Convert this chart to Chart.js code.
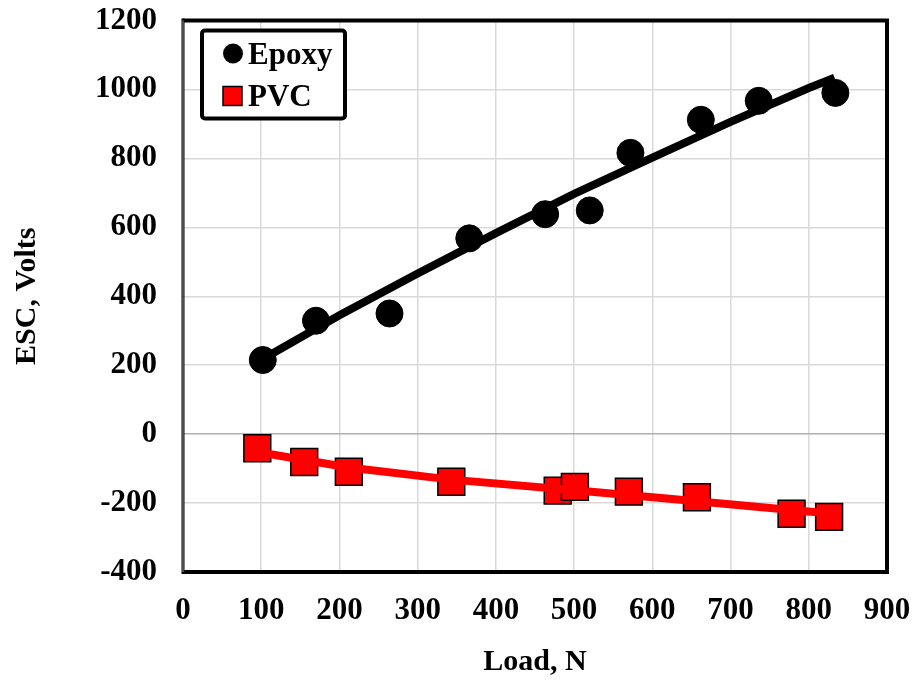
<!DOCTYPE html>
<html>
<head>
<meta charset="utf-8">
<script src="https://cdn.jsdelivr.net/npm/chart.js@4/dist/chart.umd.min.js"></script>
<style>
html,body{margin:0;padding:0;background:#fff;}
#wrap{width:916px;height:682px;position:relative;}
</style>
</head>
<body>
<div id="wrap"><canvas id="c" width="916" height="682"></canvas></div>
<script>
// ---- data ----
const seriesNames = ["Epoxy", "PVC"];
const epoxyLoad = [102, 170, 264, 366, 463, 520, 572, 662, 736, 834];
const epoxyESC  = [215, 329, 350, 568, 638, 649, 816, 912, 967, 990];
const pvcLoad   = [95, 155, 212, 343, 479, 501, 570, 657, 778, 826];
const pvcESC    = [-41, -81, -109, -138, -164, -153, -167, -183, -231, -240];
// trend lines
const epoxyTrendLoad = [102, 200, 300, 400, 500, 600, 700, 800, 833];
const epoxyTrendESC  = [218, 345, 466, 583, 697, 802, 906, 1004, 1034];
const pvcTrendLoad   = [95, 212, 343, 501, 657, 778, 828];
const pvcTrendESC    = [-52, -97, -132, -163, -195, -220, -230];
const xTicks = [0, 100, 200, 300, 400, 500, 600, 700, 800, 900];
const yTicks = [-400, -200, 0, 200, 400, 600, 800, 1000, 1200];
const xTitle = "Load, N";
const yTitle = "ESC, Volts";

const pts = (xs, ys) => xs.map((x, i) => ({x: x, y: ys[i]}));
const FONT = "'Liberation Serif', 'Times New Roman', serif";

const framePlugin = {
  id: 'frame',
  afterDraw(chart) {
    const {ctx, chartArea: a} = chart;
    ctx.save();
    ctx.strokeStyle = '#000';
    ctx.lineWidth = 4;
    ctx.beginPath();
    ctx.moveTo(a.left, a.top);
    ctx.lineTo(a.right, a.top);
    ctx.lineTo(a.right, a.bottom);
    ctx.lineTo(a.left, a.bottom);
    ctx.stroke();
    ctx.lineWidth = 3;
    ctx.beginPath();
    ctx.moveTo(a.left, a.top - 2);
    ctx.lineTo(a.left, a.bottom + 2);
    ctx.stroke();
    ctx.strokeStyle = '#999';
    ctx.lineWidth = 1;
    ctx.beginPath();
    ctx.moveTo(a.left, a.top);
    ctx.lineTo(a.left, a.bottom);
    ctx.stroke();

    // legend box
    const bx = a.left + 19, by = a.top + 10, bw = 143, bh = 88;
    ctx.fillStyle = '#fff';
    ctx.strokeStyle = '#000';
    ctx.lineWidth = 4;
    ctx.beginPath();
    if (ctx.roundRect) ctx.roundRect(bx, by, bw, bh, 3); else ctx.rect(bx, by, bw, bh);
    ctx.fill();
    ctx.stroke();
    // Epoxy item
    ctx.fillStyle = '#000';
    ctx.beginPath();
    ctx.arc(bx + 31, by + 23, 10, 0, Math.PI * 2);
    ctx.fill();
    ctx.font = "bold 31px " + FONT;
    ctx.textBaseline = 'alphabetic';
    ctx.textAlign = 'left';
    ctx.fillText(seriesNames[0], bx + 46, by + 33);
    // PVC item
    ctx.fillStyle = '#ff0000';
    ctx.fillRect(bx + 21, by + 56, 19, 19);
    ctx.lineWidth = 1.5;
    ctx.strokeStyle = '#000';
    ctx.strokeRect(bx + 21, by + 56, 19, 19);
    ctx.fillStyle = '#000';
    ctx.fillText(seriesNames[1], bx + 46, by + 75);
    ctx.restore();
  }
};

new Chart(document.getElementById('c'), {
  type: 'scatter',
  data: {
    datasets: [
      {
        label: seriesNames[0] + ' trend',
        data: pts(epoxyTrendLoad, epoxyTrendESC),
        showLine: true, borderColor: '#000', borderWidth: 8,
        pointRadius: 0, tension: 0, fill: false
      },
      {
        label: seriesNames[1] + ' trend',
        data: pts(pvcTrendLoad, pvcTrendESC),
        showLine: true, borderColor: '#ff0000', borderWidth: 8,
        pointRadius: 0, tension: 0, fill: false
      },
      {
        label: seriesNames[0],
        data: pts(epoxyLoad, epoxyESC),
        showLine: false, pointStyle: 'circle', pointRadius: 13.5,
        backgroundColor: '#000', borderColor: '#000', borderWidth: 1
      },
      {
        label: seriesNames[1],
        data: pts(pvcLoad, pvcESC),
        showLine: false, pointStyle: 'rect', pointRadius: 19,
        backgroundColor: '#ff0000', borderColor: '#000', borderWidth: 1.5
      }
    ]
  },
  options: {
    responsive: false,
    animation: false,
    clip: false,
    layout: {padding: {left: 0, top: 18, right: 29, bottom: 0}},
    plugins: {legend: {display: false}, tooltip: {enabled: false}},
    scales: {
      x: {
        type: 'linear', min: 0, max: 900,
        afterBuildTicks: s => { s.ticks = xTicks.map(v => ({value: v})); },
        afterFit: s => { s.height = 110; s.paddingLeft = 0; s.paddingRight = 0; },
        border: {display: false},
        grid: {color: '#d9d9d9', lineWidth: 1.5, drawTicks: false},
        ticks: {color: '#000', padding: 20, font: {family: FONT, size: 31, weight: 'bold'}, maxRotation: 0,
                callback: v => String(v)},
        title: {display: true, text: xTitle, color: '#000', padding: {top: 0, bottom: 2},
                font: {family: FONT, size: 30, weight: 'bold'}}
      },
      y: {
        type: 'linear', min: -400, max: 1200,
        afterBuildTicks: s => { s.ticks = yTicks.map(v => ({value: v})); },
        afterFit: s => { s.width = 183; s.paddingTop = 0; s.paddingBottom = 0; },
        border: {display: false},
        grid: {color: c => c.tick && c.tick.value === 0 ? '#b0b0b0' : '#d9d9d9', lineWidth: 1.5, drawTicks: false},
        ticks: {color: '#000', padding: 26, font: {family: FONT, size: 31, weight: 'bold'},
                callback: v => String(v)},
        title: {display: true, text: yTitle, color: '#000', padding: {top: 9, bottom: 0},
                font: {family: FONT, size: 30, weight: 'bold'}}
      }
    }
  },
  plugins: [framePlugin]
});
</script>
</body>
</html>
